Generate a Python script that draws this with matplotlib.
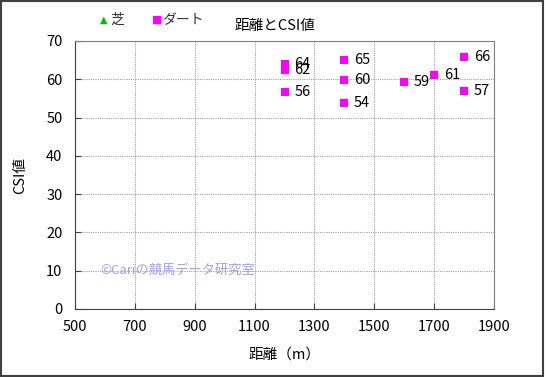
import matplotlib
matplotlib.use("Agg")
import matplotlib.pyplot as plt
from matplotlib.patches import Rectangle

plt.rcParams['font.family'] = ['Noto Sans CJK JP', 'DejaVu Sans']

# Data
turf_x = []
turf_y = []
dirt_x = [1200, 1200, 1200, 1400, 1400, 1400, 1600, 1700, 1800, 1800]
dirt_y = [64.0, 62.4, 56.6, 65.0, 59.8, 53.9, 59.4, 61.0, 65.9, 57.0]
dirt_labels = ["64", "62", "56", "65", "60", "54", "59", "61", "66", "57"]
x_ticks = [500, 700, 900, 1100, 1300, 1500, 1700, 1900]
y_ticks = [0, 10, 20, 30, 40, 50, 60, 70]

W, H = 545, 377
fig = plt.figure(figsize=(W / 100, H / 100), dpi=100)
fig.patch.set_facecolor('white')
fig.patches.append(Rectangle((0.002, 0.003), 0.995, 0.994, transform=fig.transFigure,
                             fill=False, edgecolor='#404040', linewidth=1.5))

ax = fig.add_axes([75 / W, 1 - 309 / H, (494 - 75) / W, (309 - 41) / H])
ax.set_xlim(500, 1900)
ax.set_ylim(0, 70)
ax.set_xticks(x_ticks)
ax.set_yticks(y_ticks)
ax.grid(True, color='#a0a0a0', linestyle=(0, (1, 1)), linewidth=0.8)
ax.set_axisbelow(True)
for s in ['top', 'right']:
    ax.spines[s].set_color('#808080')
for s in ['left', 'bottom']:
    ax.spines[s].set_color('#404040')
ax.tick_params(direction='in', length=4, color='#404040', labelsize=10.5)
ax.tick_params(axis='y', pad=9)
ax.tick_params(axis='x', pad=8)

ax.scatter(turf_x, turf_y, marker='^', color='#00c000', s=30, zorder=3)
ax.scatter(dirt_x, dirt_y, marker='s', color='#ff00ff', s=30, zorder=3, linewidths=0)
for x, y, lab in zip(dirt_x, dirt_y, dirt_labels):
    ax.annotate(lab, (x, y), xytext=(7, 0), textcoords='offset points',
                va='center', ha='left', fontsize=10.5, color='#000000')

ax.set_xlabel('距離（m）', fontsize=10.5, labelpad=10)
ax.set_ylabel('CSI値', fontsize=10.5, labelpad=14)

ax.text(583, 10, '©Cariの競馬データ研究室', fontsize=9.5, color='#a0a0f0', va='center', ha='left')

# Title and legend
fig.text(275 / W, 1 - 26 / H, '距離とCSI値', fontsize=10.5, ha='center', va='center')
fig.text(104 / W, 1 - 20 / H, '▲', color='#00c000', fontsize=7, ha='center', va='center',
         family=['DejaVu Sans'])
fig.text(110 / W, 1 - 20 / H, '芝', fontsize=10, ha='left', va='center', color='#333333')
fig.text(157 / W, 1 - 20 / H, '■', color='#ff00ff', fontsize=8, ha='center', va='center',
         family=['DejaVu Sans'])
fig.text(162 / W, 1 - 20 / H, 'ダート', fontsize=10, ha='left', va='center', color='#333333')

fig.savefig('out.png', dpi=100)
